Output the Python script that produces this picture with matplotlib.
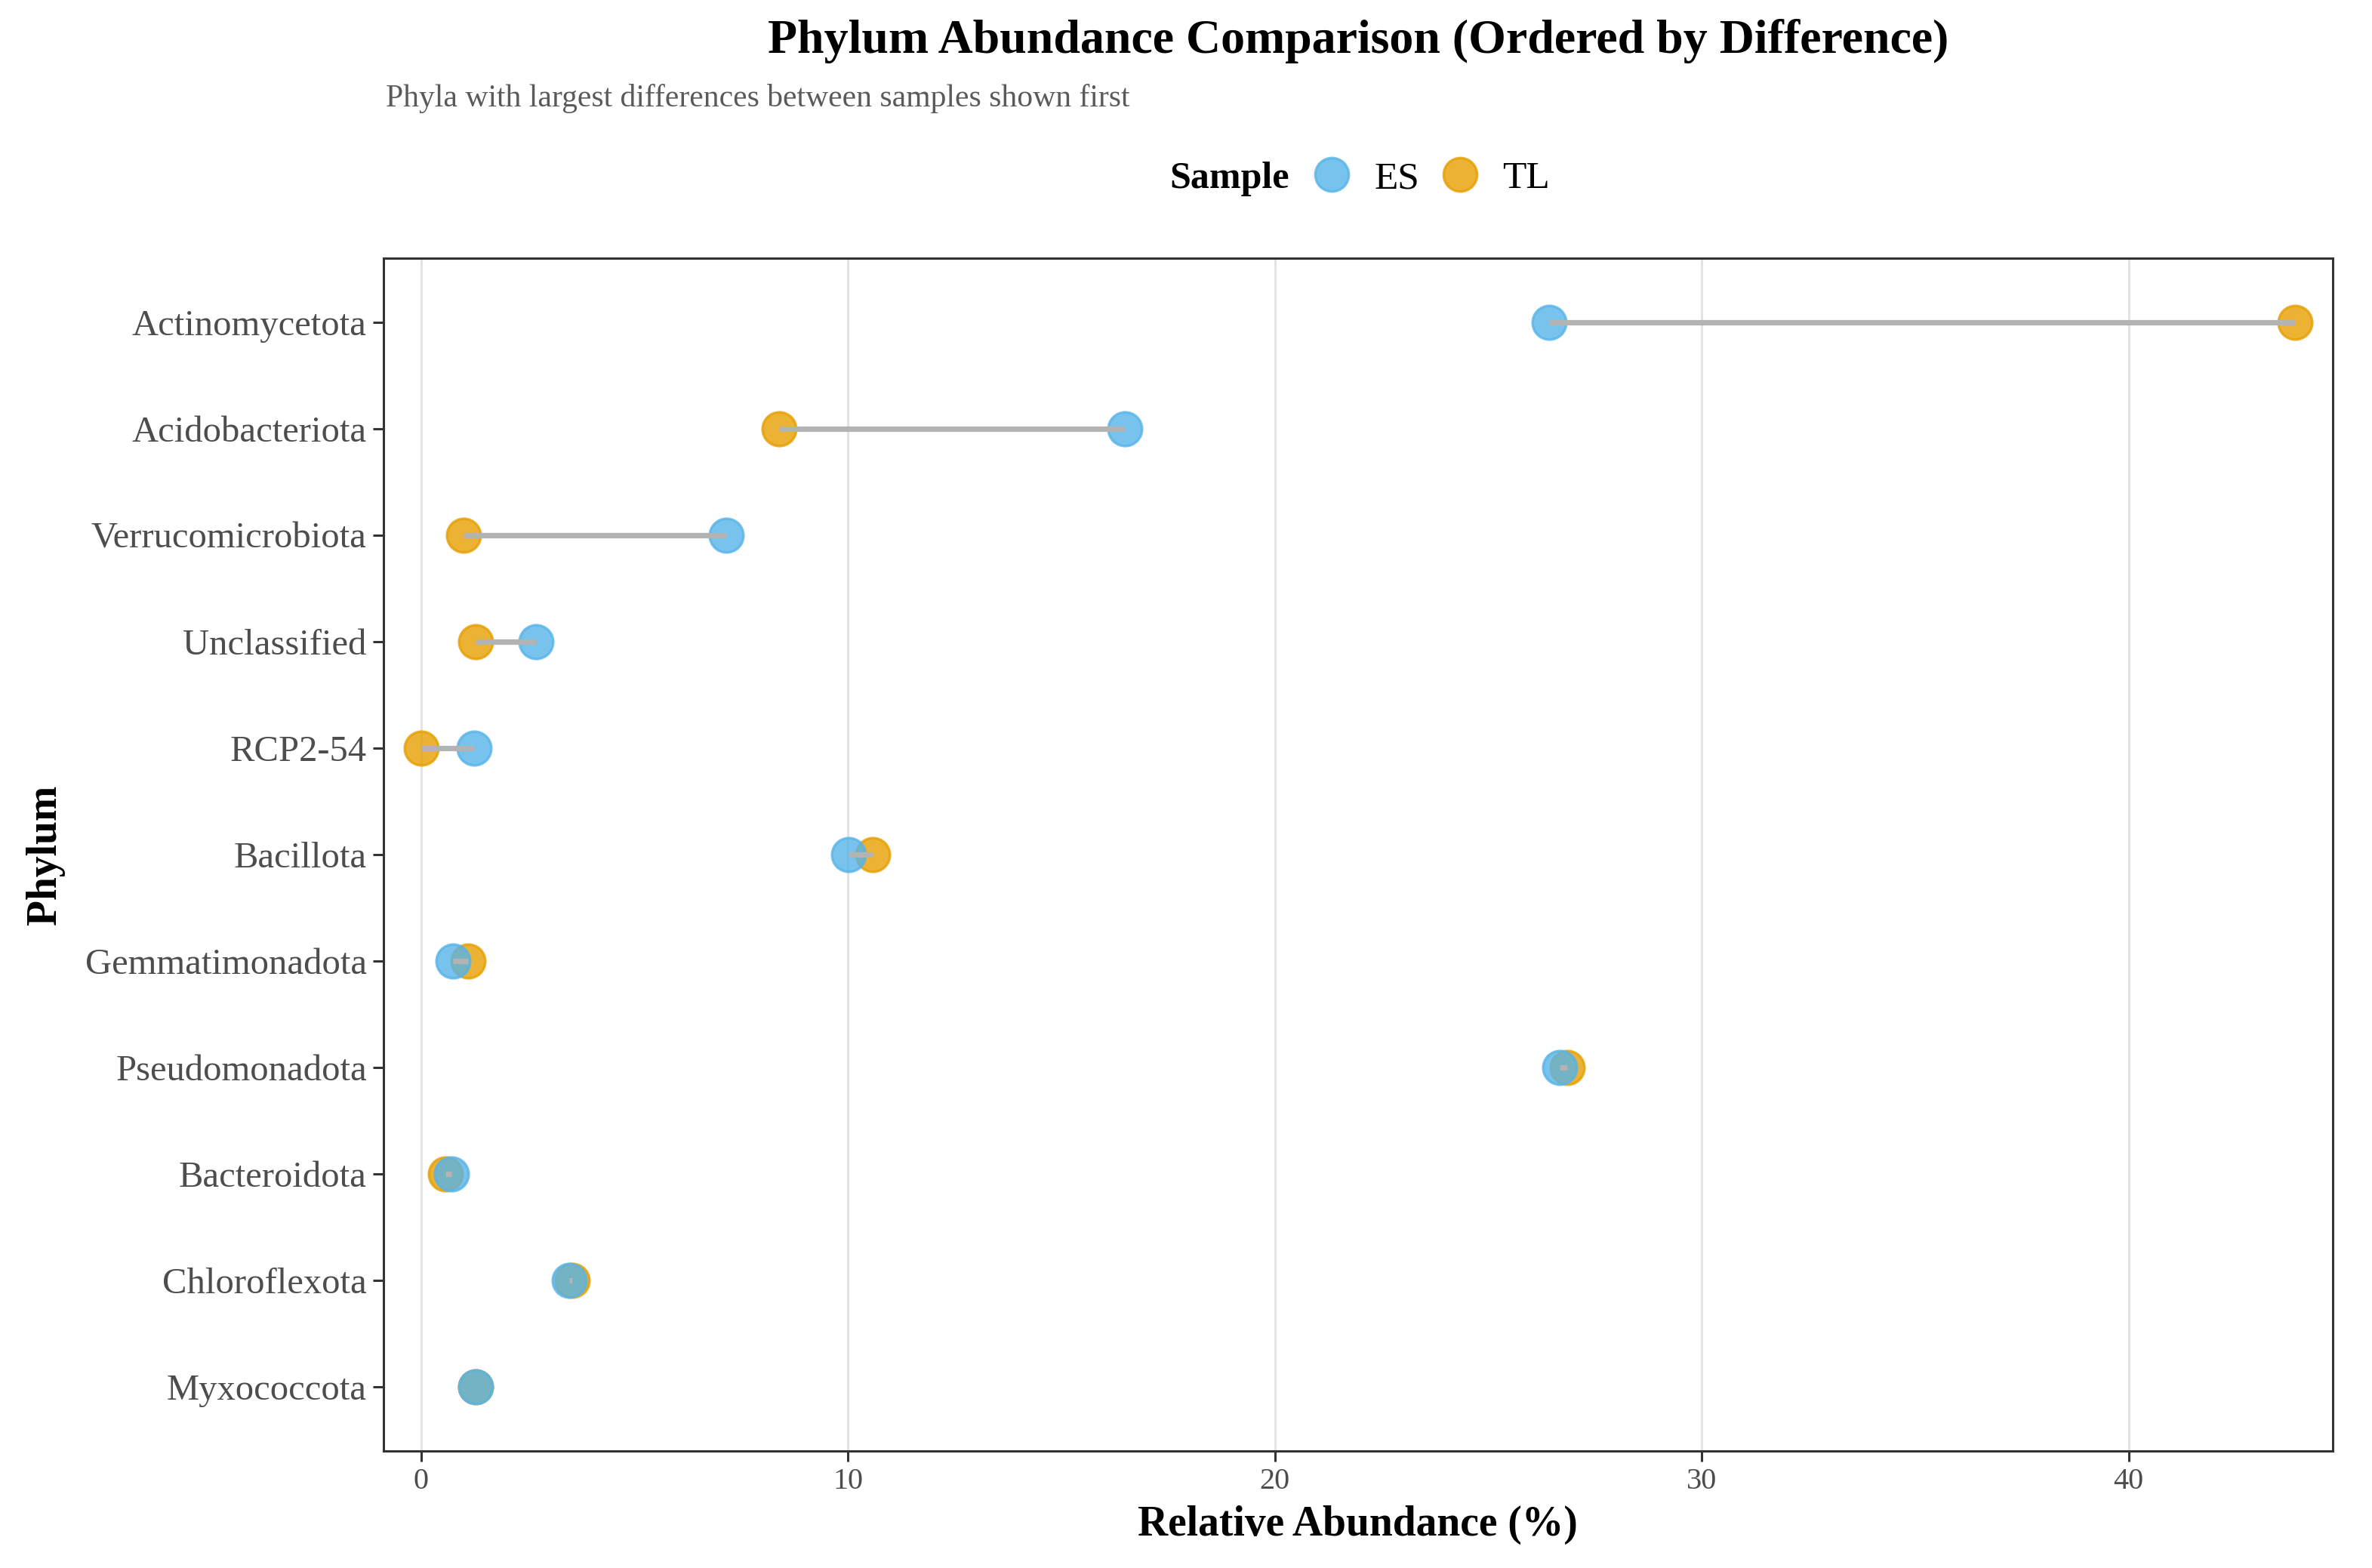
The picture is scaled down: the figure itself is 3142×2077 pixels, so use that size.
import numpy as np
import matplotlib
matplotlib.use('Agg')
import matplotlib.pyplot as plt
from matplotlib.lines import Line2D

# Phyla ordered top to bottom (largest ES/TL difference first)
phyla = ['Actinomycetota', 'Acidobacteriota', 'Verrucomicrobiota', 'Unclassified',
         'RCP2-54', 'Bacillota', 'Gemmatimonadota', 'Pseudomonadota',
         'Bacteroidota', 'Chloroflexota', 'Myxococcota']
es_values = [26.42, 16.48, 7.15, 2.69, 1.24, 10.01, 0.74, 26.67, 0.71, 3.47, 1.27]
tl_values = [43.90, 8.38, 0.99, 1.27, 0.00, 10.58, 1.10, 26.85, 0.57, 3.54, 1.27]
x_ticks = [0, 10, 20, 30, 40]

title = 'Phylum Abundance Comparison (Ordered by Difference)'
subtitle = 'Phyla with largest differences between samples shown first'

ES_COLOR = '#56B4E9'
TL_COLOR = '#E69F00'
SEG_COLOR = '#B3B3B3'
TEXT_GREY = '#4D4D4D'

plt.rcParams['font.family'] = ['Liberation Serif', 'DejaVu Serif']

fig = plt.figure(figsize=(15.71, 10.385), dpi=200)
ax = fig.add_axes([0.1617, 0.0746, 0.9834 - 0.1617, 0.8353 - 0.0746])

n = len(phyla)
ypos = np.arange(n)[::-1]

ax.scatter(tl_values, ypos, s=260, color=TL_COLOR, alpha=0.8, linewidths=1.2, zorder=3)
ax.scatter(es_values, ypos, s=260, color=ES_COLOR, alpha=0.8, linewidths=1.2, zorder=4)
ax.hlines(ypos, es_values, tl_values, color=SEG_COLOR, linewidth=2.6, zorder=5)

ax.set_xlim(-0.88, 44.78)
ax.set_ylim(-0.6, n - 1 + 0.6)
ax.set_xticks(x_ticks)
ax.set_yticks(ypos)
ax.set_yticklabels(phyla)
ax.tick_params(axis='y', labelsize=17.5, colors='#333333', labelcolor=TEXT_GREY,
               length=5, width=1.1, pad=3)
ax.tick_params(axis='x', labelsize=14.5, colors='#333333', labelcolor=TEXT_GREY,
               length=5, width=1.1, pad=3)

ax.grid(axis='x', color='#E3E3E3', linewidth=1.1, zorder=0)
ax.set_axisbelow(True)
for sp in ax.spines.values():
    sp.set_color('#333333')
    sp.set_linewidth(1.1)

fig.text(0.019, 0.455, 'Phylum', rotation=90, ha='center', va='center',
         fontsize=20, fontweight='bold')
fig.text(0.5725, 0.0275, 'Relative Abundance (%)', ha='center', va='center',
         fontsize=20, fontweight='bold')

fig.text(0.5725, 0.974, title, ha='center', va='center', fontsize=23, fontweight='bold')
fig.text(0.1625, 0.937, subtitle, ha='left', va='center', fontsize=15, color='#5A5A5A')

# Legend with inline title
fig.text(0.5435, 0.886, 'Sample', ha='right', va='center', fontsize=18, fontweight='bold')
handles = [Line2D([], [], marker='o', linestyle='', markersize=16, color=ES_COLOR,
                  alpha=0.8, markeredgewidth=1.2),
           Line2D([], [], marker='o', linestyle='', markersize=16, color=TL_COLOR,
                  alpha=0.8, markeredgewidth=1.2)]
fig.legend(handles, ['ES', 'TL'], loc='center left', bbox_to_anchor=(0.5515, 0.886),
           ncol=2, frameon=False, fontsize=18.5, handlelength=1.2, handletextpad=0.5,
           columnspacing=0.45, borderpad=0, borderaxespad=0)

fig.savefig('out.png', dpi=200)
